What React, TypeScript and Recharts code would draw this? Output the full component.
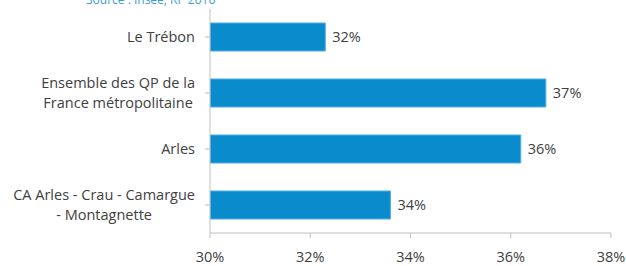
import React from "react";
import { Bar, BarChart, LabelList, XAxis, YAxis } from "recharts";

const categories = [
  "Le Trébon",
  "Ensemble des QP de la\nFrance métropolitaine",
  "Arles",
  "CA Arles - Crau - Camargue\n- Montagnette",
];
const values = [32.3, 36.7, 36.2, 33.6];
const xTicks = [30, 32, 34, 36, 38];

const data = categories.map((name, i) => ({ name, value: values[i] }));

const FONT = "'Open Sans', sans-serif";
const FS = 14.5;
const TEXT = "#404040";
const AXIS = "#bfbfbf";

let ctx: CanvasRenderingContext2D | null = null;
function measure(s: string) {
  if (!ctx) ctx = document.createElement("canvas").getContext("2d");
  if (!ctx) return s.length * 7;
  ctx.font = `${FS}px ${FONT}`;
  return ctx.measureText(s).width;
}

function CategoryTick(props: any) {
  const { x, y, payload } = props;
  const lines = String(payload.value).split("\n");
  const w = Math.max(...lines.map(measure));
  const cx = x - w / 2;
  const lh = 20;
  const start = y - ((lines.length - 1) * lh) / 2;
  return (
    <g>
      {lines.map((l, i) => (
        <text
          key={i}
          x={cx}
          y={start + i * lh}
          dy="0.35em"
          textAnchor="middle"
          fill={TEXT}
          fontSize={FS}
          fontFamily={FONT}
        >
          {l}
        </text>
      ))}
    </g>
  );
}

export default function App() {
  return (
    <div style={{ position: "absolute", left: 0, top: 0, width: 626, height: 266, background: "#fff", overflow: "hidden" }}>
      <div
        style={{
          position: "absolute",
          left: 86,
          top: -9,
          fontFamily: FONT,
          fontSize: 12,
          color: "#3d9ad8",
        }}
      >
        Source : Insee, RP 2016
      </div>
      <BarChart
        width={626}
        height={266}
        layout="vertical"
        data={data}
        margin={{ top: 9, right: 15, left: 0, bottom: 0 }}
        barCategoryGap="25%"
      >
        <XAxis
          type="number"
          domain={[30, 38]}
          ticks={xTicks}
          tickFormatter={(v) => `${v}%`}
          height={33}
          stroke={AXIS}
          tickSize={5}
          tickMargin={14}
          tick={{ fill: TEXT, fontSize: FS, fontFamily: FONT }}
          allowDataOverflow
        />
        <YAxis
          type="category"
          dataKey="name"
          width={210}
          stroke={AXIS}
          tickSize={5}
          tickMargin={10}
          tick={<CategoryTick />}
        />
        <Bar dataKey="value" fill="#0a8bcc" stroke="#4eaee0" strokeWidth={1} isAnimationActive={false}>
          <LabelList
            dataKey="value"
            position="right"
            offset={7}
            formatter={(v: any) => `${Math.round(Number(v))}%`}
            fill={TEXT}
            fontSize={FS}
            fontFamily={FONT}
          />
        </Bar>
      </BarChart>
    </div>
  );
}
